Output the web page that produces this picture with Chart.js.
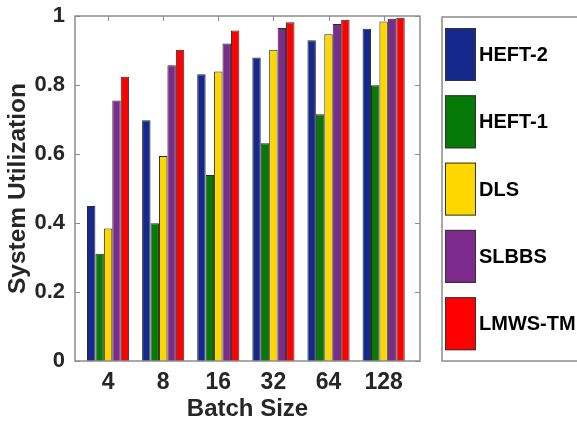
<!DOCTYPE html>
<html>
<head>
<meta charset="utf-8">
<script src="https://cdn.jsdelivr.net/npm/chart.js@4.4.1/dist/chart.umd.min.js"></script>
<style>
  html, body { margin: 0; padding: 0; background: #ffffff; }
  #wrap { width: 577px; height: 423px; }
</style>
</head>
<body>
<div id="wrap"><canvas id="c" width="577" height="423"></canvas></div>
<script>
// Batch sizes on the x axis and utilization per scheduling algorithm
const batchSizes = ['4', '8', '16', '32', '64', '128'];
const seriesNames = ['HEFT-2', 'HEFT-1', 'DLS', 'SLBBS', 'LMWS-TM'];
const heft2  = [0.449, 0.698, 0.831, 0.880, 0.930, 0.963];
const heft1  = [0.311, 0.399, 0.539, 0.631, 0.715, 0.799];
const dls    = [0.384, 0.594, 0.839, 0.902, 0.947, 0.984];
const slbbs  = [0.755, 0.857, 0.920, 0.965, 0.977, 0.992];
const lmwsTm = [0.824, 0.902, 0.958, 0.982, 0.989, 0.995];
const yTicks = [0, 0.2, 0.4, 0.6, 0.8, 1];

const seriesValues = [heft2, heft1, dls, slbbs, lmwsTm];
const seriesColors = ['#14298b', '#067a06', '#ffd700', '#7c2b8c', '#ff0000'];

const FONT = "'Liberation Sans', Arial, sans-serif";
const TEXT = '#262626';
const FRAME = '#8c8c8c';

// Boxed axes with inward tick marks on all four sides
const framePlugin = {
  id: 'frame',
  beforeDatasetsDraw(chart) {
    const { ctx, chartArea: a, scales: { x, y } } = chart;
    ctx.save();
    ctx.strokeStyle = FRAME;
    ctx.lineWidth = 1;
    const len = 5;
    ctx.beginPath();
    yTicks.forEach(v => {
      const py = Math.round(y.getPixelForValue(v)) + 0.5;
      ctx.moveTo(a.left, py); ctx.lineTo(a.left + len, py);
      ctx.moveTo(a.right, py); ctx.lineTo(a.right - len, py);
    });
    batchSizes.forEach((_, i) => {
      const px = Math.round(x.getPixelForValue(i + 1)) + 0.5;
      ctx.moveTo(px, a.top); ctx.lineTo(px, a.top + len);
      ctx.moveTo(px, a.bottom); ctx.lineTo(px, a.bottom - len);
    });
    ctx.stroke();
    ctx.restore();
  },
  afterDatasetsDraw(chart) {
    const { ctx, chartArea: a } = chart;
    ctx.save();
    ctx.strokeStyle = FRAME;
    ctx.lineWidth = 1.5;
    ctx.strokeRect(a.left, a.top, a.right - a.left, a.bottom - a.top);
    ctx.restore();
  }
};

// Boxed legend to the right of the axes, one tall swatch per series
const boxLegendPlugin = {
  id: 'boxLegend',
  afterDraw(chart) {
    const { ctx, chartArea: a } = chart;
    const left = a.right + 22;
    const top = a.top + 1;
    const bottom = a.bottom;
    ctx.save();
    ctx.strokeStyle = FRAME;
    ctx.lineWidth = 1.5;
    ctx.strokeRect(left, top, chart.width - left + 5, bottom - top);
    const step = 67.3;
    const swW = 31, swH = 53;
    chart.data.datasets.forEach((ds, i) => {
      const sx = left + 3;
      const sy = top + 11 + i * step;
      ctx.fillStyle = ds.backgroundColor;
      ctx.fillRect(sx, sy, swW, swH);
      ctx.strokeStyle = '#333333';
      ctx.lineWidth = 1;
      ctx.strokeRect(sx + 0.5, sy + 0.5, swW - 1, swH - 1);
      ctx.fillStyle = '#000000';
      ctx.font = 'bold 20px ' + FONT;
      ctx.textAlign = 'left';
      ctx.textBaseline = 'middle';
      ctx.fillText(ds.label, sx + swW + 3, sy + swH / 2 + 1);
    });
    ctx.restore();
  }
};

new Chart(document.getElementById('c'), {
  type: 'bar',
  data: {
    datasets: seriesNames.map((name, s) => ({
      label: name,
      data: seriesValues[s].map((v, i) => ({ x: i + 1, y: v })),
      backgroundColor: seriesColors[s],
      borderColor: '#2a2a2a',
      borderWidth: 1,
      categoryPercentage: 0.765,
      barPercentage: 1
    }))
  },
  options: {
    responsive: false,
    devicePixelRatio: 1,
    animation: false,
    layout: { padding: { top: 16, right: 157, left: 0, bottom: 0 } },
    plugins: {
      legend: { display: false },
      tooltip: { enabled: false }
    },
    scales: {
      x: {
        type: 'linear',
        min: 0.4,
        max: 6.66,
        offset: false,
        grid: { display: false, drawTicks: false },
        border: { display: false },
        afterBuildTicks(scale) {
          scale.ticks = batchSizes.map((_, i) => ({ value: i + 1 }));
        },
        afterFit(scale) {
          scale.height = 62;
          scale.paddingLeft = 0;
          scale.paddingRight = 0;
        },
        ticks: {
          color: TEXT,
          padding: 8,
          maxRotation: 0,
          autoSkip: false,
          font: { family: FONT, size: 23, weight: 'bold' },
          callback: (v) => batchSizes[Math.round(v) - 1]
        },
        title: {
          display: true,
          text: 'Batch Size',
          color: TEXT,
          font: { family: FONT, size: 24, weight: 'bold', lineHeight: 1 },
          padding: { top: 0, bottom: 2 }
        }
      },
      y: {
        min: 0,
        max: 1,
        grid: { display: false, drawTicks: false },
        border: { display: false },
        afterBuildTicks(scale) {
          scale.ticks = yTicks.map(v => ({ value: v }));
        },
        afterFit(scale) {
          scale.width = 75;
          scale.paddingTop = 0;
          scale.paddingBottom = 0;
        },
        ticks: {
          color: TEXT,
          padding: 10,
          crossAlign: 'near',
          font: { family: FONT, size: 22, weight: 'bold' },
          callback: (v) => String(v)
        },
        title: {
          display: true,
          text: 'System Utilization',
          color: TEXT,
          font: { family: FONT, size: 24.5, weight: 'bold', lineHeight: 1.2 },
          padding: { top: 4, bottom: 0 }
        }
      }
    }
  },
  plugins: [framePlugin, boxLegendPlugin]
});
</script>
</body>
</html>
